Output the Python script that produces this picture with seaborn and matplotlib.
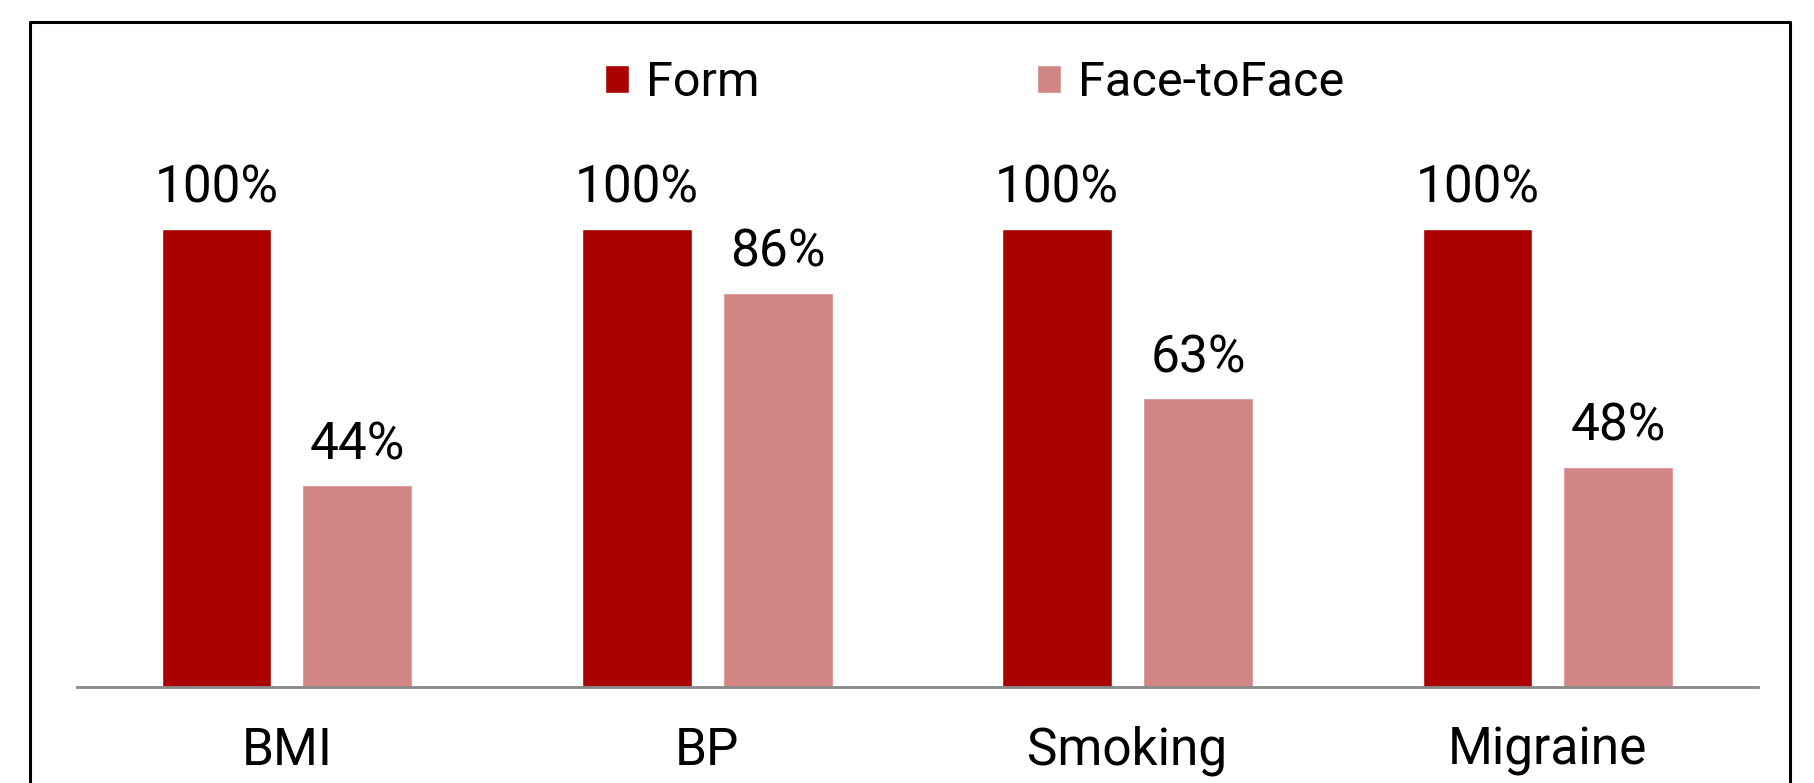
import pandas as pd
import matplotlib.pyplot as plt
import seaborn as sns
from matplotlib.lines import Line2D

# data
categories = ['BMI', 'BP', 'Smoking', 'Migraine']
form_pct = [100, 100, 100, 100]
face_pct = [44, 86, 63, 48]
series = ['Form', 'Face-toFace']
colors = ['#AA0000', '#D18685']

df = pd.DataFrame({
    'measure': categories * 2,
    'pct': form_pct + face_pct,
    'method': [series[0]] * 4 + [series[1]] * 4,
})

sns.set_theme(style='white')
plt.rcParams['font.family'] = ['Roboto', 'DejaVu Sans']
plt.rcParams['font.weight'] = 'normal'
plt.rcParams['text.color'] = 'black'
plt.rcParams['xtick.color'] = 'black'

fig = plt.figure(figsize=(18.15, 7.83), dpi=100)
ax = fig.add_axes([0.0423, 0.123, 0.9263, 0.749])

sns.barplot(data=df, x='measure', y='pct', hue='method', palette=colors,
            width=0.67, gap=0.22, saturation=1, ax=ax, legend=True)

# labels on top of bars
for c in ax.containers:
    ax.bar_label(c, labels=[f'{v:.0f}%' for v in c.datavalues],
                 padding=11, fontsize=37, color='black')

ax.set_xlim(-0.5, 3.5)
ax.set_ylim(0, 128.2)
ax.set_xlabel('')
ax.set_ylabel('')
ax.set_yticks([])
ax.tick_params(axis='x', length=0, labelsize=37, pad=28, labelcolor='black')
for s in ['top', 'left', 'right']:
    ax.spines[s].set_visible(False)
ax.spines['bottom'].set_color('#898989')
ax.spines['bottom'].set_linewidth(2)

# legend across the top
handles, labels = ax.get_legend_handles_labels()
ax.get_legend().remove()
fig.legend(handles, labels, loc='center', bbox_to_anchor=(0.537, 0.894),
           ncol=2, frameon=False, fontsize=35, handlelength=0.5,
           handleheight=0.5, handletextpad=0.35, columnspacing=5.7)

# black frame round the chart, open at the bottom
W, H = 1815, 783
x0, x1, y0 = 30 / W, 1790 / W, 1 - 22 / H
fig.add_artist(Line2D([x0, x0, x1, x1], [0, y0, y0, 0], color='black',
                      linewidth=2.2, transform=fig.transFigure))

plt.savefig('out.png', dpi=100)
